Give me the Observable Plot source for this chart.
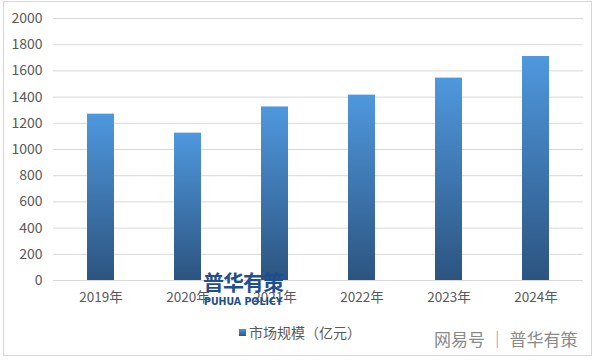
<!DOCTYPE html>
<html>
<head>
<meta charset="utf-8">
<script src="https://cdn.jsdelivr.net/npm/d3@7"></script>
<script src="https://cdn.jsdelivr.net/npm/@observablehq/plot@0.6"></script>
<style>
  html, body { margin: 0; padding: 0; background: #fff; }
  #wrap { position: relative; width: 600px; height: 360px; overflow: hidden; font-family: "Noto Sans CJK SC", "Noto Sans", sans-serif; }
  #frame { position: absolute; left: 3px; top: 1px; width: 589px; height: 355px; border: 1px solid #d6d6d6; box-sizing: border-box; }
  #chart { position: absolute; left: 0; top: 0; }
  #legend { position: absolute; left: 0; width: 600px; top: 322px; text-align: center; font-size: 14px; color: #595959; }
  #legend .sw { display: inline-block; width: 7px; height: 7px; background: linear-gradient(#4d96dc, #2d5683); margin-right: 3px; vertical-align: 2px; }
  #wm1 { position: absolute; left: 203px; top: 266px; font-size: 21px; font-weight: bold; color: #1f4f8f; letter-spacing: -1px; }
  #wm2 { position: absolute; left: 204px; top: 295px; font-size: 10.5px; font-weight: bold; color: #1f4f8f; font-family: "Liberation Sans Narrow", "DejaVu Sans Condensed", sans-serif; }
  #src { position: absolute; left: 434px; top: 326px; font-size: 17px; color: #8a8a8a; }
</style>
</head>
<body>
<div id="wrap">
  <div id="frame"></div>
  <div id="chart"></div>
  <div id="legend"><span class="sw"></span>市场规模（亿元）</div>
  <div id="wm1">普华有策</div>
  <div id="wm2">PUHUA POLICY</div>
  <div id="src">网易号 │ 普华有策</div>
</div>
<script>
const years = ["2019年", "2020年", "2021年", "2022年", "2023年", "2024年"];
const values = [1270, 1125, 1325, 1415, 1545, 1710];
const yTicks = [0, 200, 400, 600, 800, 1000, 1200, 1400, 1600, 1800, 2000];

const data = years.map((y, i) => ({year: y, value: values[i]}));

const chart = Plot.plot({
  width: 600,
  height: 315,
  marginTop: 18,
  marginBottom: 35,
  marginLeft: 53,
  marginRight: 17,
  style: { fontFamily: "'Noto Sans CJK SC', 'Noto Sans', sans-serif", fontSize: "13px", color: "#595959", background: "transparent" },
  x: { domain: years, paddingInner: 0.69, paddingOuter: 0.374, label: null },
  y: { domain: [0, 2000], ticks: yTicks, label: null },
  marks: [
    Plot.ruleY(yTicks, { stroke: "#d9d9d9", strokeWidth: 1 }),
    Plot.barY(data, { x: "year", y: "value", fill: "url(#barGrad)" }),
    Plot.axisY({ ticks: yTicks, tickFormat: d => String(d), tickSize: 0, tickPadding: 11, label: null, fontSize: 14 }),
    Plot.axisX({ tickSize: 0, tickPadding: 12, label: null, fontSize: 13.5 })
  ]
});

const svg = d3.select(chart);
const defs = svg.insert("defs", ":first-child");
const g = defs.append("linearGradient").attr("id", "barGrad")
  .attr("x1", 0).attr("y1", 0).attr("x2", 0).attr("y2", 1);
g.append("stop").attr("offset", "0%").attr("stop-color", "#4f98de");
g.append("stop").attr("offset", "100%").attr("stop-color", "#2c5480");

document.getElementById("chart").appendChild(chart);
</script>
</body>
</html>
